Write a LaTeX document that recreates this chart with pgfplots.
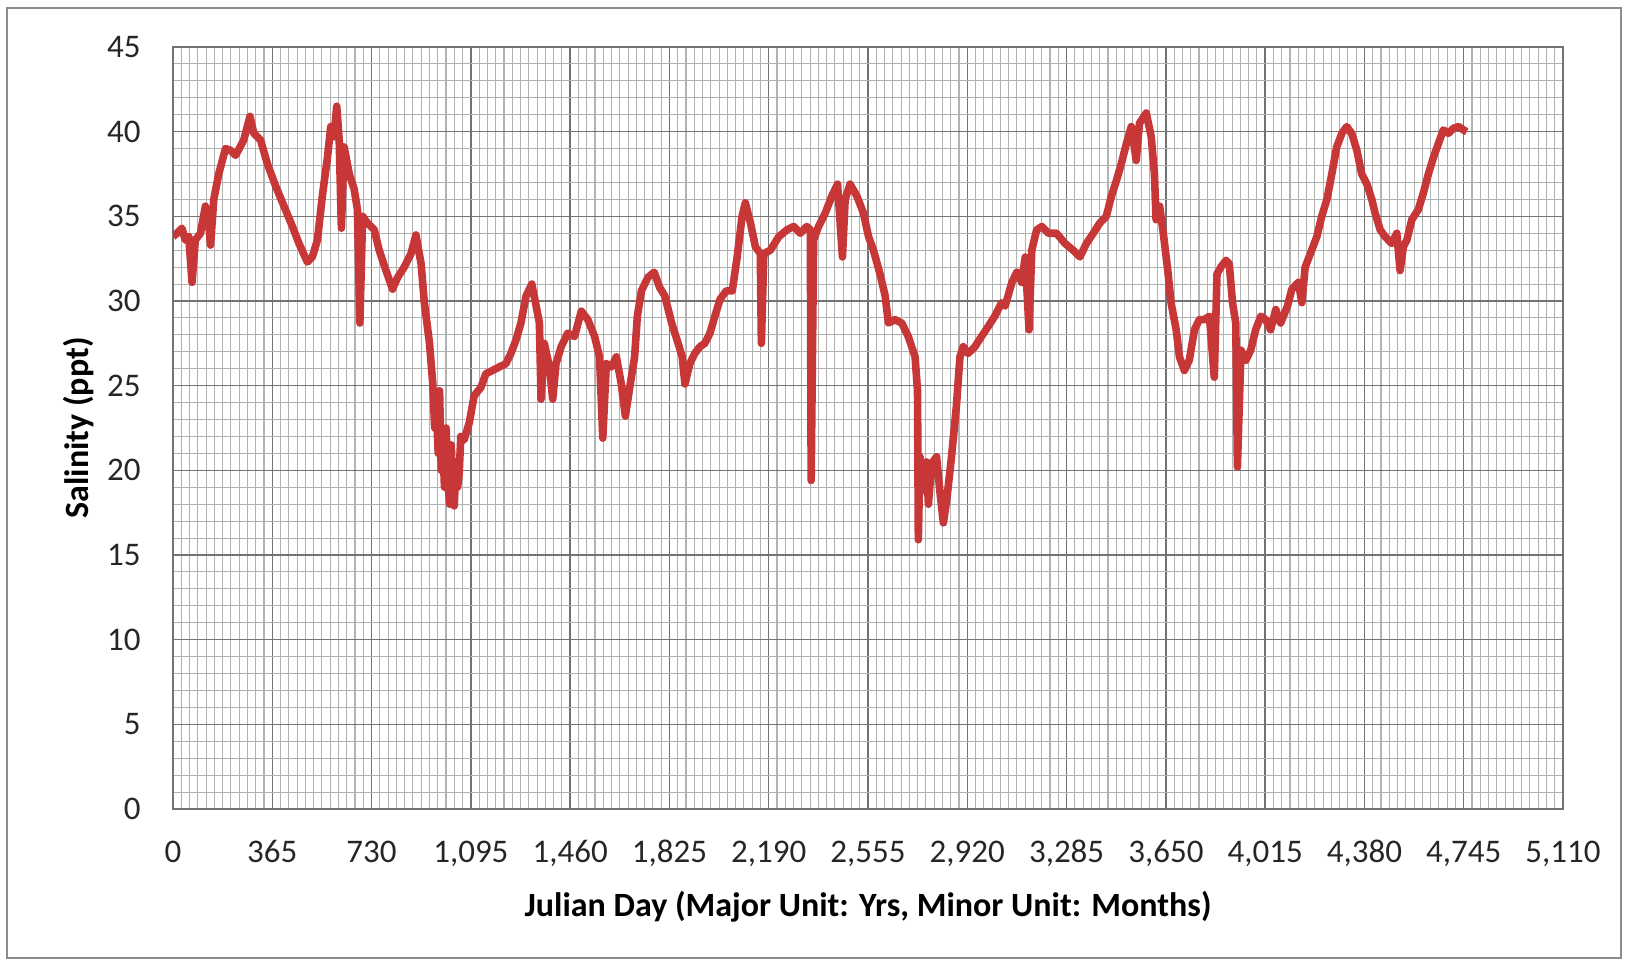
\documentclass[border=0pt]{standalone}
\usepackage{fontspec}
\setmainfont{Carlito}
\usepackage{pgfplots}
\pgfplotsset{compat=1.18}
\definecolor{linered}{RGB}{200,55,55}
\begin{document}
\begin{tikzpicture}
\path (0,0) rectangle (814pt,483pt);
\draw[black!45, line width=1.2pt] (3.5pt,4pt) rectangle (810.5pt,479pt);
\begin{axis}[
  at={(86.5pt,78.5pt)}, anchor=south west,
  width=695pt, height=381pt, scale only axis,
  xmin=0, xmax=5110, ymin=0, ymax=45,
  xtick={0,365,...,5110}, ytick={0,5,...,45},
  minor x tick num=11, minor y tick num=4,
  grid=both,
  major grid style={draw=black!55, line width=0.7pt},
  minor grid style={draw=black!30, line width=0.55pt},
  axis line style={draw=black!55, line width=0.7pt},
  major tick length=0pt, minor tick length=0pt,
  /pgf/number format/.cd, 1000 sep={,}, assume math mode=true,
  /pgfplots/.cd,
  ticklabel style={font=\fontsize{16.5}{18}\selectfont, text=black!85},
  xticklabel style={anchor=base, inner sep=0pt, yshift=-26.7pt},
  yticklabel style={anchor=east, inner sep=0pt, xshift=-16pt},
  xlabel={Julian Day (Major Unit: Yrs, Minor Unit: Months)},
  ylabel={Salinity (ppt)},
  label style={font=\bfseries\fontsize{17}{18}\selectfont},
  xlabel style={at={(axis description cs:0.5,-0.128)}, anchor=center},
  ylabel style={at={(axis description cs:-0.068,0.5)}, anchor=center, rotate=0},
]
\addplot[linered, line width=3.8pt, line join=round, mark=none] coordinates {
(0,33.8) (15,34.0) (33,34.3) (45,33.6) (58,33.8) (70,31.1) (82,33.6) (101,34.0)
(119,35.6) (130,34.8) (138,33.3) (150,36.0) (168,37.5) (193,39.0) (211,38.9)
(230,38.6) (260,39.5) (283,40.9) (297,39.9) (322,39.5) (347,38.1) (377,36.8)
(408,35.6) (439,34.4) (463,33.4) (494,32.3) (512,32.6) (531,33.6) (549,36.2)
(568,38.5) (580,40.3) (592,39.7) (602,41.5) (611,39.5) (619,34.3) (629,39.1)
(648,37.5) (666,36.6) (678,35.4) (687,28.7) (697,35.0) (715,34.6) (740,34.2)
(758,33.0) (783,31.8) (807,30.7) (826,31.4) (850,32.0) (875,32.8) (893,33.9)
(912,32.2) (924,29.9) (943,27.5) (955,25.1) (962,22.5) (968,23.6) (975,21.0)
(980,24.7) (986,20.0) (992,21.6) (998,19.0) (1004,22.5) (1010,19.5) (1017,18.0)
(1023,21.5) (1028,19.0) (1034,17.9) (1040,20.5) (1046,19.0) (1052,19.8) (1058,22.0)
(1070,21.8) (1089,22.8) (1107,24.4) (1132,24.9) (1150,25.7) (1175,25.9)
(1199,26.1) (1224,26.3) (1242,26.9) (1261,27.7) (1279,28.7) (1298,30.3)
(1319,31.0) (1335,29.7) (1347,28.7) (1353,24.2) (1365,27.5) (1384,26.1)
(1396,24.2) (1408,26.3) (1427,27.3) (1451,28.1) (1476,27.9) (1501,29.4)
(1525,28.9) (1550,27.9) (1568,26.7) (1580,21.9) (1593,26.3) (1611,26.1)
(1630,26.7) (1648,25.1) (1663,23.2) (1679,24.9) (1697,26.7) (1707,29.1)
(1722,30.6) (1746,31.4) (1769,31.7) (1789,30.8) (1808,30.3) (1833,28.7)
(1857,27.5) (1872,26.7) (1882,25.1) (1900,26.3) (1918,26.9) (1937,27.3)
(1955,27.5) (1974,28.1) (1992,29.1) (2011,30.1) (2034,30.6) (2056,30.6)
(2074,32.6) (2092,35.0) (2104,35.8) (2123,34.6) (2141,33.2) (2159,32.8)
(2163,27.5) (2172,32.8) (2196,33.0) (2227,33.8) (2257,34.2) (2282,34.4)
(2306,34.0) (2330,34.4) (2343,34.2) (2346,19.4) (2355,33.6) (2373,34.4)
(2398,35.2) (2422,36.2) (2443,36.9) (2461,32.6) (2471,36.0) (2489,36.9)
(2514,36.2) (2538,35.2) (2557,33.8) (2575,33.0) (2599,31.6) (2618,30.3)
(2630,28.7) (2654,28.9) (2679,28.7) (2703,27.9) (2728,26.7) (2737,24.7)
(2740,15.9) (2746,20.8) (2752,19.5) (2764,18.8) (2770,20.5) (2777,18.0) (2789,20.4)
(2807,20.8) (2819,18.8) (2832,16.9) (2844,18.2) (2862,20.8) (2880,23.8)
(2893,26.7) (2905,27.3) (2923,26.9) (2948,27.3) (2972,27.9) (2997,28.5)
(3021,29.1) (3046,29.9) (3059,29.7) (3084,31.1) (3102,31.7) (3120,31.1)
(3133,32.6) (3147,28.3) (3157,33.0) (3175,34.2) (3194,34.4) (3218,34.0)
(3248,34.0) (3279,33.4) (3309,33.0) (3334,32.6) (3358,33.4) (3383,34.0)
(3407,34.6) (3431,35.0) (3450,36.2) (3468,37.1) (3486,38.1) (3505,39.3)
(3523,40.3) (3541,38.3) (3553,40.5) (3578,41.1) (3596,39.7) (3608,37.5)
(3614,34.8) (3627,35.6) (3639,34.2) (3657,31.8) (3669,29.9) (3688,28.3)
(3700,26.7) (3718,25.9) (3736,26.5) (3755,28.3) (3773,28.9) (3791,28.9)
(3810,29.1) (3828,25.5) (3838,31.6) (3852,32.0) (3871,32.4) (3883,32.2)
(3895,29.9) (3907,28.7) (3913,20.2) (3926,27.1) (3944,26.5) (3962,27.1)
(3980,28.3) (3999,29.1) (4017,28.9) (4035,28.3) (4054,29.5) (4072,28.7)
(4097,29.7) (4113,30.7) (4137,31.1) (4150,29.9) (4162,32.0) (4186,33.0)
(4205,33.8) (4223,35.0) (4242,36.0) (4260,37.5) (4278,39.1) (4297,39.9)
(4315,40.3) (4333,39.9) (4352,38.9) (4370,37.5) (4389,36.9) (4407,36.0)
(4419,35.2) (4438,34.2) (4456,33.8) (4480,33.4) (4499,34.0) (4511,31.8)
(4523,33.2) (4536,33.6) (4554,34.8) (4578,35.4) (4597,36.4) (4615,37.5)
(4634,38.5) (4652,39.3) (4670,40.1) (4689,39.9) (4707,40.2) (4726,40.3)
(4744,40.1) (4756,40.0)
};
\end{axis}
\end{tikzpicture}
\end{document}
